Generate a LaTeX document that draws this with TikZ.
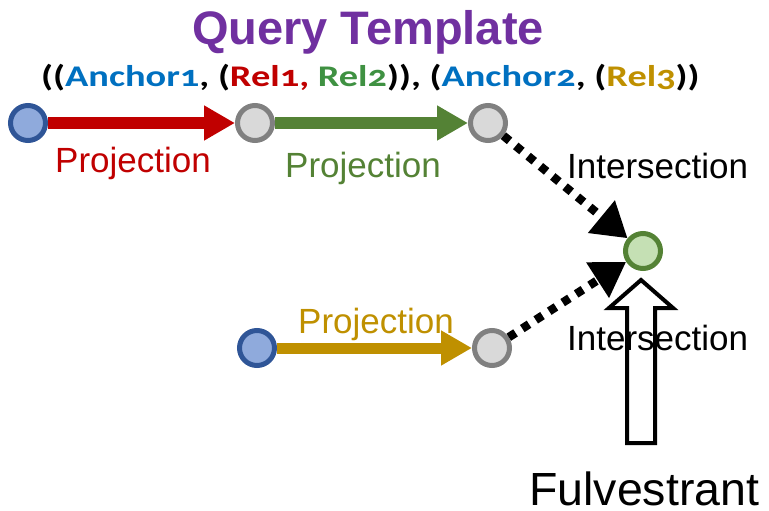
\documentclass[tikz,border=0pt]{standalone}
\usepackage{fontspec}
\setmainfont{Liberation Sans}
\newfontfamily\tuplefont[Numbers=OldStyle,FakeStretch=1.28]{Carlito}
\usetikzlibrary{arrows.meta}
\definecolor{qpurple}{HTML}{7030A0}
\definecolor{qblue}{HTML}{0070C0}
\definecolor{qred}{HTML}{C00000}
\definecolor{qgreen}{HTML}{548235}
\definecolor{qgreentxt}{HTML}{3F9142}
\definecolor{qgold}{HTML}{BF9000}
\definecolor{anchfill}{HTML}{8FAADC}
\definecolor{anchdraw}{HTML}{2F5597}
\definecolor{varfill}{HTML}{D9D9D9}
\definecolor{vardraw}{HTML}{808080}
\definecolor{tgtfill}{HTML}{C5E0B4}
\definecolor{tgtdraw}{HTML}{548235}
\begin{document}
\begin{tikzpicture}[x=1pt,y=-1pt,
  anchornode/.style={circle,minimum size=35pt,inner sep=0pt,line width=5pt,draw=anchdraw,fill=anchfill},
  varnode/.style={circle,minimum size=35pt,inner sep=0pt,line width=5pt,draw=vardraw,fill=varfill},
  tgtnode/.style={circle,minimum size=35pt,inner sep=0pt,line width=5pt,draw=tgtdraw,fill=tgtfill},
  projarrow/.style={line width=12pt,-{Triangle[length=31pt,width=33pt]}},
  interarrow/.style={line width=8.5pt,dash pattern=on 8pt off 8pt,-{Triangle[length=34pt,width=40pt]}},
  lbl/.style={inner sep=0pt,anchor=base west,font=\fontsize{35}{40}\selectfont}
]
\useasboundingbox (0,0) rectangle (769,511);

% title
\node[inner sep=0pt,anchor=base,text=qpurple,font=\fontsize{47}{52}\selectfont\bfseries] (title) at (368,45) {Query Template};
\node[inner sep=0pt,anchor=base west,font=\tuplefont\bfseries\fontsize{30}{34}\selectfont] (tuple) at (41,87)
  {((\textcolor{qblue}{Anchor1}, (\textcolor{qred}{Rel1,} \textcolor{qgreentxt}{Rel2})), (\textcolor{qblue}{Anchor2}, (\textcolor{qgold}{Rel3}))};

% nodes
\node[anchornode] (a1) at (28,123) {};
\node[varnode] (n1) at (255,123) {};
\node[varnode] (n2) at (488,123) {};
\node[tgtnode] (t) at (643,251) {};
\node[anchornode] (a2) at (257,348) {};
\node[varnode] (n3) at (492,348) {};

% projections
\draw[projarrow,qred] (a1) -- (n1);
\draw[projarrow,qgreen] (n1) -- (n2);
\draw[projarrow,qgold,line width=11pt] (a2) -- (n3);

\node[lbl,text=qred] (p1) at (55,172) {Projection};
\node[lbl,text=qgreen] (p2) at (285,177) {Projection};
\node[lbl,text=qgold] (p3) at (298,333) {Projection};

% intersections
\draw[interarrow] (n2) -- (t);
\draw[interarrow] (n3) -- (t);
\node[lbl] (i1) at (567,178) {Intersection};
\node[lbl] (i2) at (567,350) {Intersection};

% hollow arrow
\coordinate (ftip) at (641,280);
\draw[line width=4pt,line join=miter] (ftip) -- (673,308) -- (655,308) -- (655,443) -- (627,443) -- (627,308) -- (609,308) -- cycle;
\node[inner sep=0pt,anchor=base west,font=\fontsize{46.5}{50}\selectfont] (drug) at (529,505) {Fulvestrant};
\end{tikzpicture}
\end{document}
